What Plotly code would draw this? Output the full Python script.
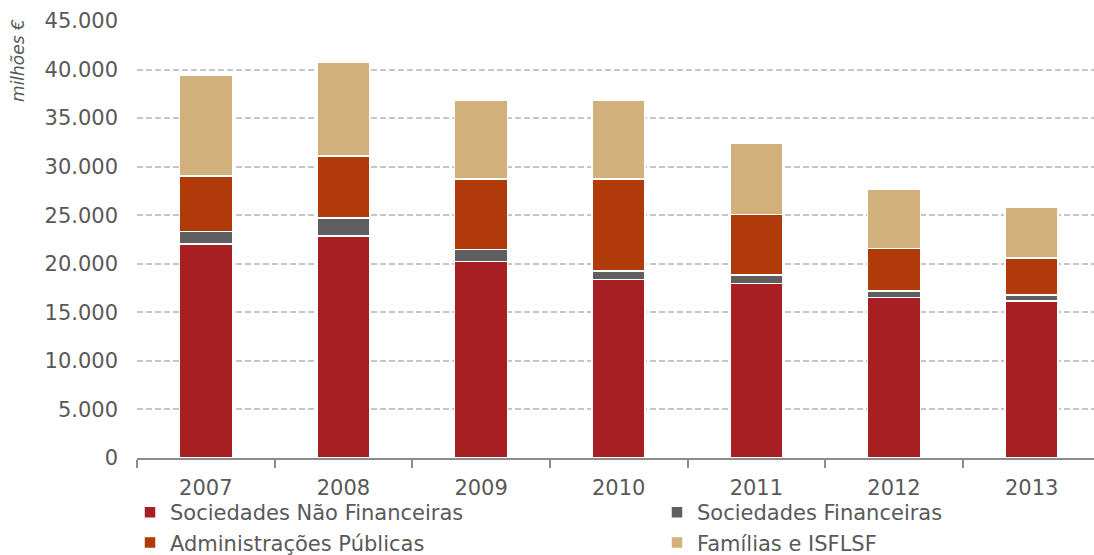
import plotly.graph_objects as go

years = ["2007", "2008", "2009", "2010", "2011", "2012", "2013"]
nao_financeiras = [22050, 22870, 20240, 18380, 17970, 16530, 16150]
financeiras = [1300, 1830, 1230, 860, 860, 650, 620]
adm_publicas = [5690, 6400, 7280, 9510, 6220, 4390, 3810]
familias = [10330, 9670, 8080, 8080, 7330, 6070, 5210]

series = [
    ("Sociedades Não Financeiras", nao_financeiras, "#A71E23", "legend"),
    ("Sociedades Financeiras", financeiras, "#5F5F5F", "legend2"),
    ("Administrações Públicas", adm_publicas, "#B03A09", "legend"),
    ("Famílias e ISFLSF", familias, "#D1B07B", "legend2"),
]

FONT = "Verdana, DejaVu Sans, sans-serif"
TXT = "#595959"

fig = go.Figure()
for name, vals, col, lg in series:
    fig.add_trace(go.Bar(
        x=years, y=vals, name=name, legend=lg,
        marker=dict(color=col, line=dict(color="white", width=1.5)),
    ))

W, H = 1094, 555
left, bottom, top = 136.5, 97, 20.6
plot_h = H - bottom - top
plot_w = W - left

legend_common = dict(
    orientation="v", xanchor="left", yanchor="top",
    xref="container", yref="container",
    font=dict(size=21, color=TXT), bgcolor="rgba(0,0,0,0)",
    traceorder="normal", tracegroupgap=0, itemwidth=30,
)

fig.update_layout(
    width=W, height=H,
    barmode="stack", bargap=0.615,
    separators=",.",
    plot_bgcolor="white", paper_bgcolor="white",
    margin=dict(l=left, r=0, t=top, b=bottom, pad=0, autoexpand=False),
    font=dict(family=FONT, size=21, color=TXT),
    xaxis=dict(
        type="category", range=[-0.5, 6.453], automargin=False,
        showline=True, linecolor="#8C8C8C", linewidth=1.5,
        ticks="outside", tickson="boundaries", ticklen=8, tickcolor="#8C8C8C", tickwidth=1.5,
        showgrid=False, tickfont=dict(size=21, color=TXT), ticklabelstandoff=10,
    ),
    yaxis=dict(
        range=[0, 45000], dtick=5000, tickformat=",d", automargin=False,
        showline=False, zeroline=False,
        showgrid=True, gridcolor="#C6C6C6", gridwidth=1.5, griddash="6px,3px",
        ticks="", ticklabelstandoff=18, tickfont=dict(size=21, color=TXT),
    ),
    legend=dict(x=130 / W, y=1 - 492 / H, **legend_common),
    legend2=dict(x=657 / W, y=1 - 492 / H, **legend_common),
    annotations=[dict(
        text="<i>milhões €</i>", textangle=-90,
        xref="paper", yref="paper",
        x=-(left - 18) / plot_w, y=1 + (top - 60) / plot_h,
        xanchor="center", yanchor="middle", showarrow=False,
        font=dict(size=17, color=TXT),
    )],
)

fig.write_html("out.html", config={"displayModeBar": False},
               post_script="document.body.style.margin='0px';")
